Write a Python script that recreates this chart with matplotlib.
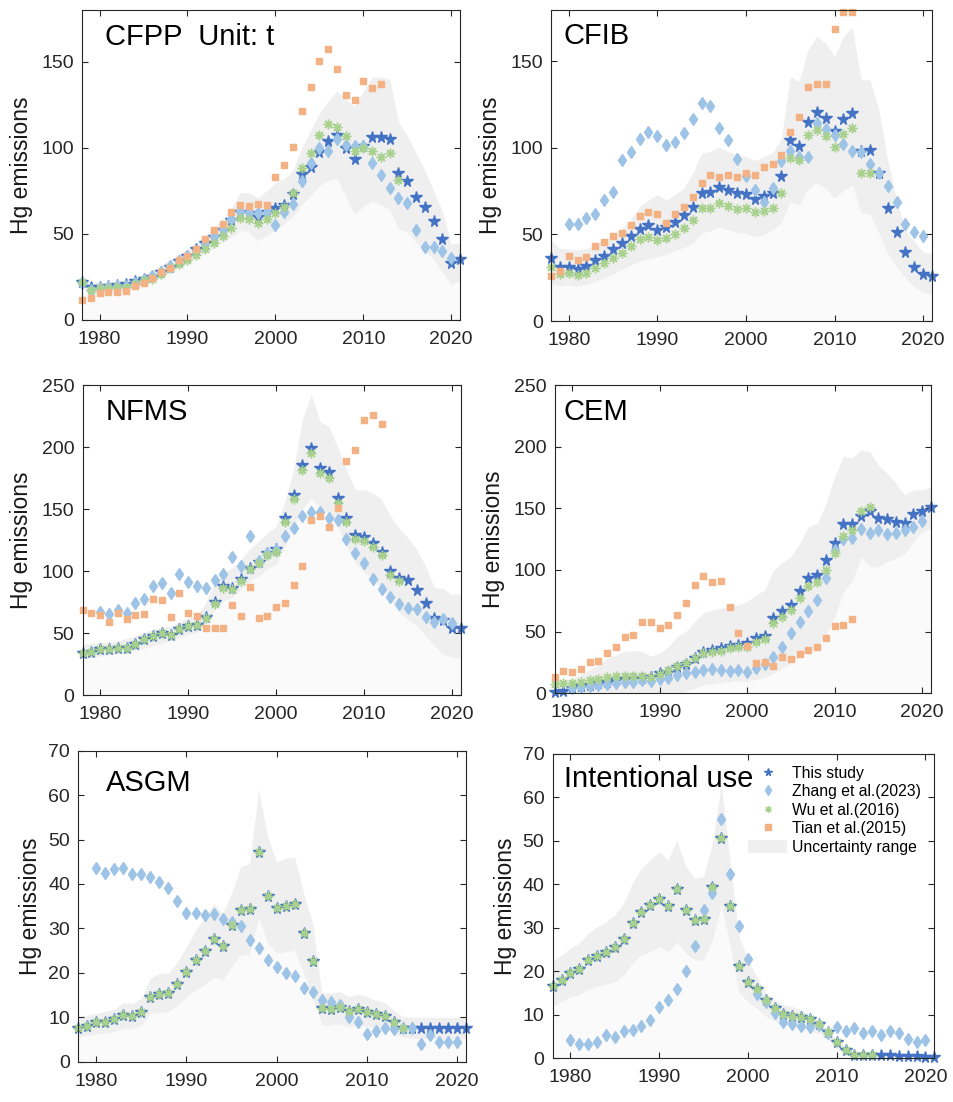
import numpy as np
import matplotlib
matplotlib.use("Agg")
import matplotlib.pyplot as plt
from matplotlib.lines import Line2D
from matplotlib.patches import Patch

plt.rcParams["font.family"] = ["Liberation Sans", "DejaVu Sans"]

# years for each series
years_all = np.arange(1978, 2022)      # this study and uncertainty range
years_wu = np.arange(1978, 2015)       # Wu et al.(2016)
years_tian = np.arange(1978, 2013)     # Tian et al.(2015)
years_zhang = np.arange(1980, 2021)    # Zhang et al.(2023)
years_zhang_cfpp = np.arange(1978, 2021)

# ---- CFPP ----
cfpp_this = [22.3, 19, 19.4, 19.7, 20.3, 20.7, 22.6, 23.6, 25, 28, 31, 34, 37, 41, 44.5,
             48.4, 52.3, 58, 63, 62.3, 60, 62.5, 65, 67, 73, 84.6, 89, 97.7, 103.7, 107.4,
             99.7, 93.3, 101, 106.5, 106, 105, 85.4, 81, 71.4, 65.8, 57.7, 47.2, 33.3, 35.2]
cfpp_zhang = [21.5, 17.5, 18.5, 19, 19.5, 20, 21.5, 23, 25.5, 28, 31.5, 34.5, 37, 40, 44,
              48.5, 53, 58.5, 63.3, 62.7, 62, 63, 55, 63, 67.4, 80.7, 91, 100, 98.3, 105,
              101.6, 101.2, 101, 91.4, 84, 76.8, 70.8, 67.7, 52.3, 42.4, 42.4, 40, 35.8]
cfpp_wu = [22, 17.4, 18.5, 18.7, 19, 19.2, 21, 23, 24, 27, 30, 32.5, 35, 38, 41, 45, 49,
           53.6, 59, 58.4, 56.5, 58.4, 62, 65.8, 74, 88, 97, 107.4, 113.6, 112, 107, 98.3,
           100, 98.3, 94.8, 97, 81.3]
cfpp_tian = [11.6, 12.6, 15.5, 16.5, 16.5, 16.8, 19.7, 21.7, 24.2, 28, 30.4, 34.8, 37.2,
             41.4, 47, 52.3, 56, 62.7, 67, 66.2, 67.5, 67, 83.2, 90.2, 100.3, 121.4, 135.5,
             150.4, 157.3, 146, 130.6, 127.7, 139, 135, 137]
cfpp_upper = [25, 22, 22, 22, 23, 23.5, 25, 26.5, 29, 32, 35, 38, 41, 45, 49, 54, 59, 65,
              74, 74, 71, 75, 80, 82, 87, 100, 110, 120, 127, 133, 128, 124, 133, 141, 141,
              140, 115, 107, 97, 87, 75, 63, 44, 45]
cfpp_lower = [19, 16, 16.5, 17, 17.5, 18, 19, 20, 22, 24.5, 27, 30, 33, 36, 39, 42, 45, 48,
              52, 51, 46, 49, 52, 56, 60, 67, 72, 78, 81, 82, 72, 61, 66, 69, 67, 64, 53, 51,
              45, 40, 35, 28, 20.5, 23]

# ---- CFIB ----
cfib_this = [36.2, 31.4, 31, 30, 32, 35, 37.8, 41.4, 45, 49.4, 53, 55.3, 52.6, 54.2, 57, 61,
             65.7, 73.8, 74.4, 77.3, 75.8, 73.8, 73.5, 70.4, 72.5, 74.2, 83.5, 104.7, 101.2,
             115, 120.5, 117.2, 109.7, 116.8, 120.1, 98.5, 98.9, 85.4, 65.2, 51.3, 39.7,
             31.4, 27.2, 26.2]
cfib_zhang = [56.1, 56.1, 59.6, 61.7, 70, 74.8, 93.1, 97.9, 105.3, 109.5, 107, 101.8, 103.3,
              108.5, 116.6, 125.9, 124.3, 111.4, 104.7, 93.7, 83.5, 75.6, 69, 76.7, 92.7,
              98.5, 95, 94.7, 114.3, 110.9, 107.6, 102.4, 98.5, 97.4, 90.8, 85.8, 78, 69,
              56.1, 51.7, 49.4]
cfib_wu = [31.4, 27.2, 27.6, 26.4, 28, 30.8, 33.7, 36.6, 39.5, 43.6, 47.2, 48.8, 46.8, 47.8,
           50.3, 54, 58.4, 65.5, 65.5, 68, 66.5, 64.8, 65.2, 63, 63.8, 65.5, 74.2, 94, 93.1,
           107.2, 110.5, 107, 100.4, 108.2, 111.4, 85.4, 85.4]
cfib_tian = [26, 29.1, 37.8, 35.3, 37.2, 43.4, 45.9, 49.4, 50.7, 55.5, 60.7, 62.7, 61.9,
             56.9, 62.1, 66.1, 71.9, 79.6, 84.1, 83.1, 84.1, 83.1, 85.4, 84.1, 88.9, 90.8,
             95.8, 109.1, 118, 135, 137.1, 137.1, 168.9, 178.3, 178.3]
cfib_upper = [47, 42, 41.5, 41, 42, 44, 47, 50, 54, 58.4, 66, 70, 73, 70, 73, 76.7, 85.4, 97,
              98, 100.4, 98, 96, 95, 92.7, 95, 97, 105.6, 141.3, 138.4, 156.7, 164.5, 160.6,
              152.9, 164.5, 169.8, 139.4, 139.4, 122, 93, 70, 52.6, 45.9, 40, 39]
cfib_lower = [21.8, 20.2, 20.8, 20.2, 21.2, 22.7, 25, 27.2, 29.8, 32.4, 34.5, 36, 37.2, 38.5,
              40.7, 42.5, 45, 50.7, 52.2, 54.2, 52.6, 51.3, 50.7, 48.8, 49.7, 52.6, 56.9, 69,
              67, 76.3, 80, 76.7, 70.9, 75.4, 78.7, 62.3, 61.9, 50.7, 39, 31.4, 24.7, 19.9,
              16.4, 15.6]

# ---- NFMS ----
nfms_this = [33.8, 34.3, 37, 37, 37.8, 37.8, 41.5, 45, 47.7, 49.6, 48.2, 53, 55.7, 56.3, 63,
             75.3, 87.9, 86.3, 93.2, 102.6, 107.4, 114.7, 117.4, 142.8, 161.6, 185.4, 199.1,
             183, 179.5, 158.6, 142.8, 129.4, 127.3, 122.2, 115.5, 99.7, 94.6, 92.4, 84.7,
             74, 62.4, 60.3, 54.4, 54.4]
nfms_zhang = [67.3, 65.1, 68.6, 66.5, 74, 77.2, 87.9, 90.6, 82, 97.3, 91.1, 87.9, 86.3, 92.7,
              97.3, 111.5, 104, 128.6, 108, 114.7, 116.8, 128.1, 134.8, 144.2, 147.6, 147.6,
              142.5, 141.5, 125.9, 114.7, 106.1, 93.2, 85.7, 78.8, 73.4, 70.2, 69.7, 63, 59.2,
              61.1, 58.4]
nfms_wu = [33.8, 34.3, 37, 37, 37.8, 37.8, 41.5, 45, 47.7, 49.6, 48.2, 53, 55.7, 56.3, 62.4,
           73.7, 86.5, 85.2, 91.9, 101.3, 106.1, 113.3, 115.5, 139.3, 158, 181.7, 195, 179,
           175, 154.9, 139.6, 126.2, 124, 119.5, 112.8, 96.5, 91.9]
nfms_tian = [68.3, 65.9, 64.3, 59.2, 65.9, 61.1, 64.6, 65.6, 77.2, 76.6, 63.2, 82, 66.5,
             63.8, 54.4, 54.4, 54.1, 72.6, 63.8, 87.1, 62.4, 63.5, 71, 74, 89, 103.7, 140.9,
             144.2, 135.3, 150.9, 188.4, 197.7, 221.9, 225.9, 218.6]
nfms_upper = [41, 41.5, 42.3, 43, 43.7, 45.5, 47.7, 50.5, 53, 54.5, 55.7, 59, 62.4, 63.8,
              74.5, 90.6, 98.6, 102.6, 109.3, 117.4, 124, 130.8, 136, 156, 181.7, 223, 242,
              220.5, 216.5, 200.5, 181.7, 165.6, 165.6, 163, 157.6, 144.2, 134.8, 126.7,
              117.4, 104, 86.5, 85.7, 81.2, 81.2]
nfms_lower = [29.5, 30.5, 31.6, 32.3, 33, 34.3, 35.6, 37.6, 39.7, 41.7, 43.7, 46.3, 49, 50.4,
              57, 69.1, 75.8, 78.5, 85.2, 91.9, 95.9, 101.8, 105.3, 120, 134.8, 149.5, 158.9,
              150.9, 146.8, 136.1, 120, 106.6, 98.6, 94.6, 85.2, 77.2, 66.5, 61.1, 55.7, 47.7,
              39.7, 33, 30.3, 29.7]

# ---- CEM ----
cem_this = [0.8, 1.9, 4, 6, 6.8, 8.1, 9.5, 10.8, 11.6, 12.2, 12.7, 13.5, 16.2, 17.6, 21.6,
            23.8, 28.4, 33.8, 35.1, 36.5, 38.4, 39.2, 40.5, 45.1, 46.8, 60.8, 67, 71.6, 83.2,
            93.2, 96, 108.1, 122.2, 137, 137, 143.8, 148.1, 141.9, 141.1, 138.6, 137.8, 145.4,
            148.1, 151.4]
cem_zhang = [4, 5.4, 6, 6.8, 7.6, 8.6, 8.9, 9.5, 10.8, 10, 11.4, 12.7, 14.9, 16.8, 17.6,
             18.9, 19.5, 18.9, 18.4, 18.9, 17.6, 20.8, 23.8, 29.7, 37.3, 48.6, 58.1, 67, 75.7,
             93.8, 116.2, 124.9, 125.7, 133, 130.3, 132.4, 128.9, 129.7, 132.4, 135.1, 140]
cem_wu = [7.6, 8.6, 8.6, 9.5, 10.8, 11.6, 13.5, 14.1, 14.1, 14.1, 14.1, 13.5, 15.7, 18.9,
          22.4, 24.3, 28.4, 32.4, 33.2, 34.6, 36.5, 37.3, 37.8, 41.9, 43.8, 56.8, 62.2, 67.6,
          77, 87.3, 90, 100, 113.5, 127.6, 132.4, 148.1, 151.4]
cem_tian = [13.5, 18.1, 17.6, 19.5, 25.1, 26.2, 32.4, 37.3, 45.4, 47.3, 58.1, 57.6, 53.2,
            55.4, 63.5, 73, 87.8, 95.4, 90, 91.1, 69.7, 49.2, 38.4, 24.9, 25.7, 22.4, 29.2,
            27.6, 31.9, 35.1, 37.3, 45.1, 54.6, 55.4, 60]
cem_upper = [8, 10, 12, 15.5, 19, 23.5, 28, 31, 34, 34.6, 34, 30, 32.4, 38, 46, 50, 58, 65,
             67.6, 69, 70.8, 71.6, 74.3, 79.7, 83.8, 100, 106, 110.8, 121.6, 135.1, 137.8, 154,
             175.7, 192.4, 191, 197.3, 196, 185, 178.4, 170.3, 160.8, 164.9, 164.9, 167.6]
cem_lower = [0, 0, 0, 0, 0, 0, 0, 0, 0, 0, 0, 0, 0, 0, 0, 1.4, 4, 6.8, 8, 8.6, 9.5, 10, 9.5,
             11.4, 13, 16.2, 20.3, 24.3, 29.7, 35.1, 39.2, 47.3, 62.2, 82.4, 90.5, 110.8,
             102.7, 102.7, 106.8, 109.5, 113.5, 123, 131.1, 133.8]

# ---- ASGM ----
asgm_this = [7.65, 8.1, 8.85, 8.85, 9.6, 10.5, 10.35, 11.25, 14.5, 15.2, 15.4, 17.5, 20.1,
             22.9, 24.9, 27.6, 26, 30.8, 34.1, 34.4, 47.3, 37.4, 34.7, 35.1, 35.5, 28.9, 22.7,
             12, 11.8, 12.2, 11.4, 11.85, 11.25, 10.65, 10.35, 9, 7.65, 7.65, 7.65, 7.65,
             7.65, 7.65, 7.65, 7.65]
asgm_zhang = [43.5, 42.5, 43.3, 43.7, 42.2, 42.2, 41.6, 40.5, 39.2, 36.2, 33.4, 33.4, 33,
              33.2, 32.1, 31.5, 30.6, 27.5, 25.5, 22.9, 21.4, 19.9, 19.4, 16.5, 15.6, 13.9,
              13.5, 12.75, 10, 8.85, 6.2, 7, 7.65, 7.3, 7.65, 7.65, 4, 6, 4.35, 4.35, 4.5]
asgm_wu = [7.65, 8.1, 8.85, 8.85, 9.6, 10.5, 10.35, 11.25, 14.5, 15.2, 15.4, 17.5, 20.1,
           22.9, 24.9, 27.6, 26, 30.8, 34.1, 34.4, 47.3, 37.4, 34.7, 35.1, 35.5, 28.9, 22.7,
           12, 11.8, 12.2, 11.4, 11.85, 11.25, 10.65, 10.35, 9, 7.65]
asgm_upper = [10.1, 10.5, 10.9, 11.3, 11.8, 13.3, 13.1, 14.3, 18.8, 19.9, 19.9, 22.5, 25.9,
              29.6, 32.3, 35.6, 33.4, 37.9, 43.9, 44.6, 61.3, 50.6, 45, 45.8, 46.1, 37.9,
              31.1, 15.5, 15.4, 15.8, 14.6, 15.2, 14.6, 13.9, 13.3, 11.6, 10.1, 10, 10, 10,
              10, 10, 10, 10]
asgm_lower = [5.6, 5.9, 6.2, 6.5, 6.75, 7.5, 7.35, 8.25, 10.9, 11, 11.25, 12.75, 14.6, 16.1,
              17.25, 19.1, 18.4, 21.4, 24, 24.15, 32.6, 26.6, 24.5, 24.75, 25, 19.9, 14.6,
              8.25, 8.25, 8.5, 7.9, 8.25, 7.9, 7.5, 7.3, 6.4, 5.5, 5.25, 5.25, 5.25, 5.25,
              5.25, 5.25, 5.25]

# ---- Intentional use ----
iu_this = [16.6, 17.9, 19.6, 20.5, 22.5, 23.6, 24.5, 25.5, 27.5, 31.2, 33.7, 35.3, 36.7, 35,
           38.9, 34, 31.7, 32, 39.3, 50.6, 35.1, 21.3, 17.6, 15.9, 13.3, 11.5, 10.2, 9.8, 9.6,
           9, 7.9, 6, 3.7, 1.9, 0.77, 0.77, 0.77, 0.7, 0.65, 0.6, 0.5, 0.45, 0.4, 0.3]
iu_zhang = [4.1, 3.3, 3.3, 3.7, 5.4, 4.8, 6.3, 6.5, 7.5, 8.7, 11.7, 13.3, 16, 20.1, 25.8, 34,
            38.1, 55, 42.4, 30.4, 22.8, 14.7, 13, 10.5, 8.3, 7.8, 7.4, 7.1, 7.7, 5.9, 7.3, 6.3,
            6.9, 5.9, 6.3, 5.4, 6.3, 5.75, 4.4, 3.7, 4.2]
iu_wu = [16.6, 17.9, 19.6, 20.5, 22.5, 23.6, 24.5, 25.5, 27.5, 31.2, 33.7, 35.3, 36.7, 35,
         38.9, 34, 31.7, 32, 39.3, 50.6, 35.1, 21.3, 17.6, 15.9, 13.3, 11.5, 10.2, 9.8, 9.6,
         9, 7.9, 6, 3.7, 1.9, 0.77, 0.77, 0.77]
iu_upper = [22.5, 23.8, 25.3, 26.5, 28.8, 30.3, 31.4, 33, 35.7, 40.3, 43.7, 45.6, 47.5, 45.6,
            50.2, 44.1, 41.4, 41.8, 49.5, 63.3, 44.9, 28, 22.6, 18.8, 15, 13.4, 12.3, 11.9,
            11.1, 10, 8.4, 6.5, 4.2, 2.3, 1.15, 1, 1, 1, 1, 1, 1, 1, 1, 1]
iu_lower = [12, 13, 14.2, 14.6, 15.9, 16.6, 17.1, 17.6, 19.2, 21.9, 23.8, 24.5, 25.7, 24.5,
            26.8, 24.2, 22.6, 22.6, 27.2, 35.3, 25.7, 15, 13, 11.5, 9.6, 8.6, 7.7, 7.4, 7.1,
            6.5, 5.6, 4.2, 2.3, 0.8, 0.2, 0.2, 0.2, 0.2, 0.2, 0.2, 0.2, 0.2, 0.2, 0.2]

W, H = 954, 1102
fig = plt.figure(figsize=(W / 100, H / 100), dpi=100)

C_THIS = "#4472c4"
C_ZHANG = "#9dc3e6"
C_WU = "#a9d18e"
C_TIAN = "#f4b183"
C_BAND = "#efefef"
C_BELOW = "#fafafa"
ASTERISK = (8, 2, 0)


def add_px_axes(left, top, right, bottom):
    return fig.add_axes([left / W, 1 - bottom / H, (right - left) / W, (bottom - top) / H])


def draw_panel(box, name, title_xy, ylab_x, ymax, yticks, this, upper, lower,
               zhang=None, zhang_years=years_zhang, wu=None, tian=None):
    ax = add_px_axes(*box)
    ax.fill_between(years_all, 0, lower, color=C_BELOW, lw=0)
    ax.fill_between(years_all, lower, upper, color=C_BAND, lw=0)
    ax.plot(years_all, this, ls="none", marker="*", ms=8.5, color=C_THIS, clip_on=False)
    if zhang is not None:
        ax.plot(zhang_years, zhang, ls="none", marker="d", ms=6.5, color=C_ZHANG, clip_on=False)
    if wu is not None:
        ax.plot(years_wu, wu, ls="none", marker=ASTERISK, ms=7, mew=1.0, color=C_WU, clip_on=False)
    if tian is not None:
        ax.plot(years_tian, tian, ls="none", marker="s", ms=4.6, color=C_TIAN, clip_on=False)

    ax.set_xlim(1978, 2021)
    ax.set_ylim(0, ymax)
    ax.set_xticks([1980, 1990, 2000, 2010, 2020])
    ax.set_yticks(yticks)
    ax.tick_params(direction="in", top=True, right=True, length=4, width=0.8,
                   labelsize=14, colors="#262626", pad=6)
    ax.tick_params(axis="x", pad=8)
    for sp in ax.spines.values():
        sp.set_linewidth(0.8)
        sp.set_color("#262626")
    ax.set_ylabel("Hg emissions", fontsize=16.5, color="#1a1a1a")
    ax.yaxis.set_label_coords(ylab_x, 0.5)
    fig.text(title_xy[0] / W, 1 - title_xy[1] / H, name, fontsize=21,
             ha="left", va="baseline", color="black")
    return ax


draw_panel((82, 10, 460, 320), "CFPP  Unit: t", (105, 45), -0.130, 180, [0, 50, 100, 150],
           cfpp_this, cfpp_upper, cfpp_lower, zhang=cfpp_zhang, zhang_years=years_zhang_cfpp,
           wu=cfpp_wu, tian=cfpp_tian)
draw_panel((551, 9.5, 932, 321), "CFIB", (564, 44.3), -0.129, 180, [0, 50, 100, 150],
           cfib_this, cfib_upper, cfib_lower, zhang=cfib_zhang, wu=cfib_wu, tian=cfib_tian)
draw_panel((82.7, 385, 460.7, 695), "NFMS", (106, 420), -0.131, 250, [0, 50, 100, 150, 200, 250],
           nfms_this, nfms_upper, nfms_lower, zhang=nfms_zhang, wu=nfms_wu, tian=nfms_tian)
draw_panel((554.7, 385, 931, 693.3), "CEM", (564, 420), -0.131, 250, [0, 50, 100, 150, 200, 250],
           cem_this, cem_upper, cem_lower, zhang=cem_zhang, wu=cem_wu, tian=cem_tian)
draw_panel((78.3, 750.7, 466, 1061.7), "ASGM", (106, 791), -0.094, 70, list(range(0, 71, 10)),
           asgm_this, asgm_upper, asgm_lower, zhang=asgm_zhang, wu=asgm_wu)
draw_panel((552.7, 754, 934.3, 1058.3), "Intentional use", (564, 786.7), -0.094, 70,
           list(range(0, 71, 10)), iu_this, iu_upper, iu_lower, zhang=iu_zhang, wu=iu_wu)

handles = [
    Line2D([], [], ls="none", marker="*", ms=5.5, color=C_THIS),
    Line2D([], [], ls="none", marker="d", ms=5, color=C_ZHANG),
    Line2D([], [], ls="none", marker=ASTERISK, ms=5, mew=0.8, color=C_WU),
    Line2D([], [], ls="none", marker="s", ms=3.8, color=C_TIAN),
    Patch(facecolor=C_BAND, edgecolor="none"),
]
labels = ["This study", "Zhang et al.(2023)", "Wu et al.(2016)", "Tian et al.(2015)",
          "Uncertainty range"]
fig.legend(handles, labels, loc="upper left", bbox_to_anchor=(748 / W, 1 - 766 / H),
           frameon=False, fontsize=11.3, handlelength=2.5, handleheight=0.9,
           handletextpad=0.3, labelspacing=0.22, borderpad=0, borderaxespad=0)

fig.savefig("out.png", dpi=100)
